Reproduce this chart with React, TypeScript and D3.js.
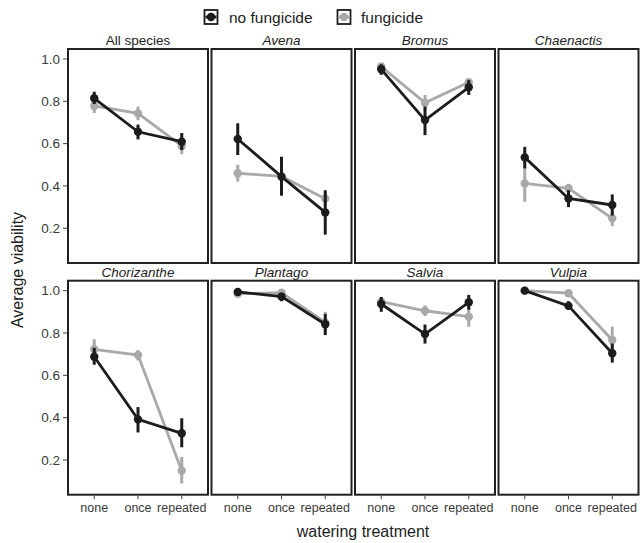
import React from "react";
import * as d3 from "d3";

const width = 640;
const height = 543;

const treatments = ["none", "once", "repeated"];
const species = ["All species", "Avena", "Bromus", "Chaenactis", "Chorizanthe", "Plantago", "Salvia", "Vulpia"];
const yTicks = [0.2, 0.4, 0.6, 0.8, 1.0];

// mean and error bar ends per species, per watering treatment
const noFungicideMean = [
  [0.814, 0.656, 0.609],
  [0.622, 0.444, 0.275],
  [0.951, 0.711, 0.866],
  [0.535, 0.341, 0.31],
  [0.688, 0.392, 0.326],
  [0.994, 0.972, 0.841],
  [0.937, 0.795, 0.945],
  [1.0, 0.928, 0.704]
];
const noFungicideLow = [
  [0.787, 0.62, 0.57],
  [0.546, 0.354, 0.17],
  [0.925, 0.64, 0.83],
  [0.483, 0.3, 0.26],
  [0.65, 0.33, 0.26],
  [0.985, 0.95, 0.79],
  [0.9, 0.75, 0.91],
  [0.995, 0.91, 0.66]
];
const noFungicideHigh = [
  [0.845, 0.69, 0.65],
  [0.696, 0.538, 0.38],
  [0.975, 0.775, 0.9],
  [0.585, 0.38, 0.36],
  [0.73, 0.45, 0.397],
  [1.0, 0.99, 0.89],
  [0.97, 0.84, 0.98],
  [1.0, 0.95, 0.75]
];
const fungicideMean = [
  [0.778, 0.743, 0.589],
  [0.46, 0.445, 0.34],
  [0.964, 0.793, 0.89],
  [0.412, 0.389, 0.247],
  [0.723, 0.696, 0.149],
  [0.985, 0.99, 0.85],
  [0.948, 0.905, 0.877],
  [1.0, 0.988, 0.767]
];
const fungicideLow = [
  [0.745, 0.71, 0.55],
  [0.42, 0.42, 0.31],
  [0.94, 0.76, 0.87],
  [0.325, 0.37, 0.21],
  [0.68, 0.67, 0.089],
  [0.975, 0.98, 0.81],
  [0.93, 0.88, 0.83],
  [0.995, 0.975, 0.72]
];
const fungicideHigh = [
  [0.8, 0.775, 0.62],
  [0.5, 0.47, 0.37],
  [0.98, 0.83, 0.91],
  [0.49, 0.41, 0.28],
  [0.77, 0.72, 0.215],
  [0.995, 1.0, 0.9],
  [0.965, 0.93, 0.92],
  [1.0, 0.995, 0.83]
];

const black = "#1c1c1c";
const grey = "#a9a9a9";
const font = "'Liberation Sans', Arial, sans-serif";

const panelLefts = [68, 211.5, 355, 498.5];
const panelTops = [49, 280.7];
const panelW = 140;
const panelH = 214;

const xScale = d3.scalePoint().domain(treatments).range([0, panelW]).padding(0.6);
const yScale = d3.scaleLinear().domain([0.036, 1.047]).range([panelH, 0]);
const line = d3
  .line<number>()
  .x((d, i) => xScale(treatments[i]) as number)
  .y((d) => yScale(d));

function Series({ mean, low, high, color }) {
  return (
    <g>
      <path d={line(mean) as string} fill="none" stroke={color} strokeWidth={2.8} />
      {mean.map((m, i) => {
        const x = xScale(treatments[i]) as number;
        return (
          <g key={i}>
            <line x1={x} x2={x} y1={yScale(low[i])} y2={yScale(high[i])} stroke={color} strokeWidth={3} />
            <circle cx={x} cy={yScale(m)} r={4.2} fill={color} />
          </g>
        );
      })}
    </g>
  );
}

function Panel({ idx }) {
  const col = idx % 4;
  const row = Math.floor(idx / 4);
  const x0 = panelLefts[col];
  const y0 = panelTops[row];
  return (
    <g transform={`translate(${x0},${y0})`}>
      <text
        x={panelW / 2}
        y={-4}
        textAnchor="middle"
        fontSize={13.5}
        fontStyle={idx === 0 ? "normal" : "italic"}
        fill={black}
      >
        {species[idx]}
      </text>
      <Series mean={fungicideMean[idx]} low={fungicideLow[idx]} high={fungicideHigh[idx]} color={grey} />
      <Series mean={noFungicideMean[idx]} low={noFungicideLow[idx]} high={noFungicideHigh[idx]} color={black} />
      <rect x={0} y={0} width={panelW} height={panelH} fill="none" stroke="#222" strokeWidth={2} />
      {row === 1 &&
        treatments.map((t) => (
          <g key={t} transform={`translate(${xScale(t)},${panelH})`}>
            <line y1={1} y2={4.5} stroke="#444" strokeWidth={1} />
            <text y={17} textAnchor="middle" fontSize={12.5} fill="#3a3a3a">
              {t}
            </text>
          </g>
        ))}
      {col === 0 &&
        yTicks.map((t) => (
          <g key={t} transform={`translate(0,${yScale(t)})`}>
            <line x1={-5} x2={-1} stroke="#444" strokeWidth={1} />
            <text x={-8} dy="0.35em" textAnchor="end" fontSize={13.5} fill="#3a3a3a">
              {d3.format(".1f")(t)}
            </text>
          </g>
        ))}
    </g>
  );
}

function LegendKey({ x, color }) {
  return (
    <g transform={`translate(${x},10)`}>
      <rect x={0} y={0} width={13} height={14} fill="white" stroke={black} strokeWidth={1.8} />
      <line x1={1} x2={12} y1={7} y2={7} stroke={color} strokeWidth={2.8} />
      <circle cx={6.5} cy={7} r={4.2} fill={color} />
    </g>
  );
}

export default function App() {
  return (
    <svg
      width={width}
      height={height}
      style={{ position: "absolute", left: 0, top: 0, fontFamily: font }}
    >
      <rect width={width} height={height} fill="white" />
      <LegendKey x={204.5} color={black} />
      <text x={229} y={23} fontSize={15.5} fill={black}>
        no fungicide
      </text>
      <LegendKey x={337.5} color={grey} />
      <text x={361} y={23} fontSize={15.5} fill={black}>
        fungicide
      </text>
      {species.map((s, i) => (
        <Panel key={s} idx={i} />
      ))}
      <text x={363} y={537} textAnchor="middle" fontSize={16} fill={black}>
        watering treatment
      </text>
      <text
        transform={`translate(23,270) rotate(-90)`}
        textAnchor="middle"
        fontSize={16}
        fill={black}
      >
        Average viability
      </text>
    </svg>
  );
}
